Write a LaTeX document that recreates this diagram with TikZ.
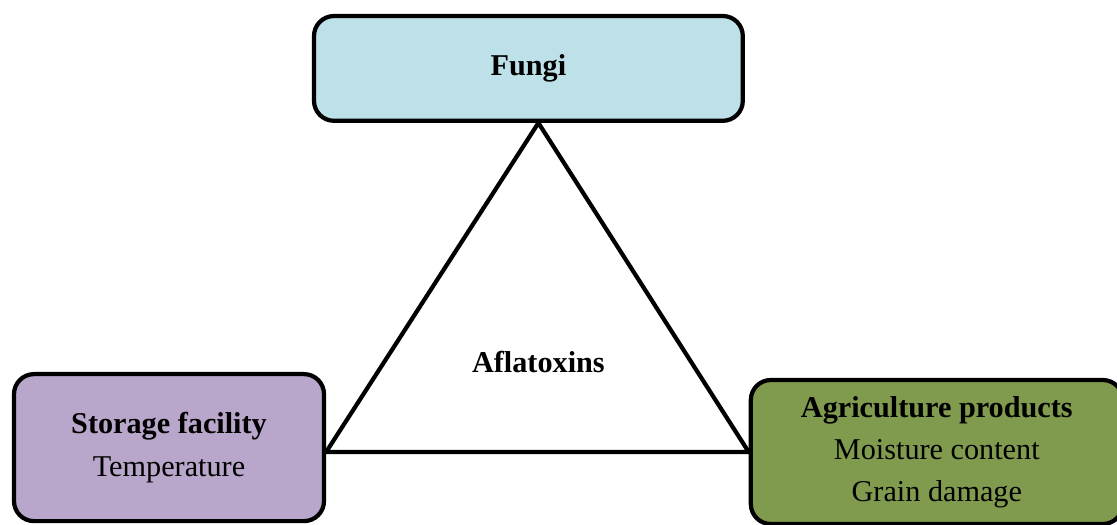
\documentclass[tikz,border=0pt]{standalone}
\usepackage{fontspec}
\setmainfont{Liberation Serif}
\usetikzlibrary{calc}

\definecolor{fungiblue}{HTML}{BEE0E8}
\definecolor{storepurple}{HTML}{B8A7CA}
\definecolor{agrigreen}{HTML}{809B4E}

\tikzset{
	box/.style={draw, line width=3pt, rounded corners=0.5cm, align=center,
		font=\fontsize{21.5}{30}\selectfont},
	edge/.style={line width=3pt, line join=miter},
}

\begin{document}
\begin{tikzpicture}
		\useasboundingbox (0,0) rectangle (27.925,-13.1);

		\node[box, fill=fungiblue, minimum width=10.72cm, minimum height=2.62cm] (fungi) at (13.21,-1.71) {\textbf{Fungi}};

		\node[box, fill=storepurple, minimum width=7.75cm, minimum height=3.675cm] (storage) at (4.225,-11.19) {\textbf{Storage facility}\\Temperature};

		\node[box, fill=agrigreen, minimum width=9.3cm, minimum height=3.6cm] (agri) at (23.42,-11.3) {\textbf{Agriculture products}\\Moisture content\\Grain damage};

		\node[font=\fontsize{21.5}{30}\selectfont] (aflatoxins) at (13.46,-9.05) {\textbf{Aflatoxins}};

		\coordinate (apex) at (fungi.south -| aflatoxins);
		\coordinate (left) at (storage.east |- 0,-11.3);

		\draw[edge] (apex) -- (left) -- (agri.west) -- cycle;

	\end{tikzpicture}
\end{document}
